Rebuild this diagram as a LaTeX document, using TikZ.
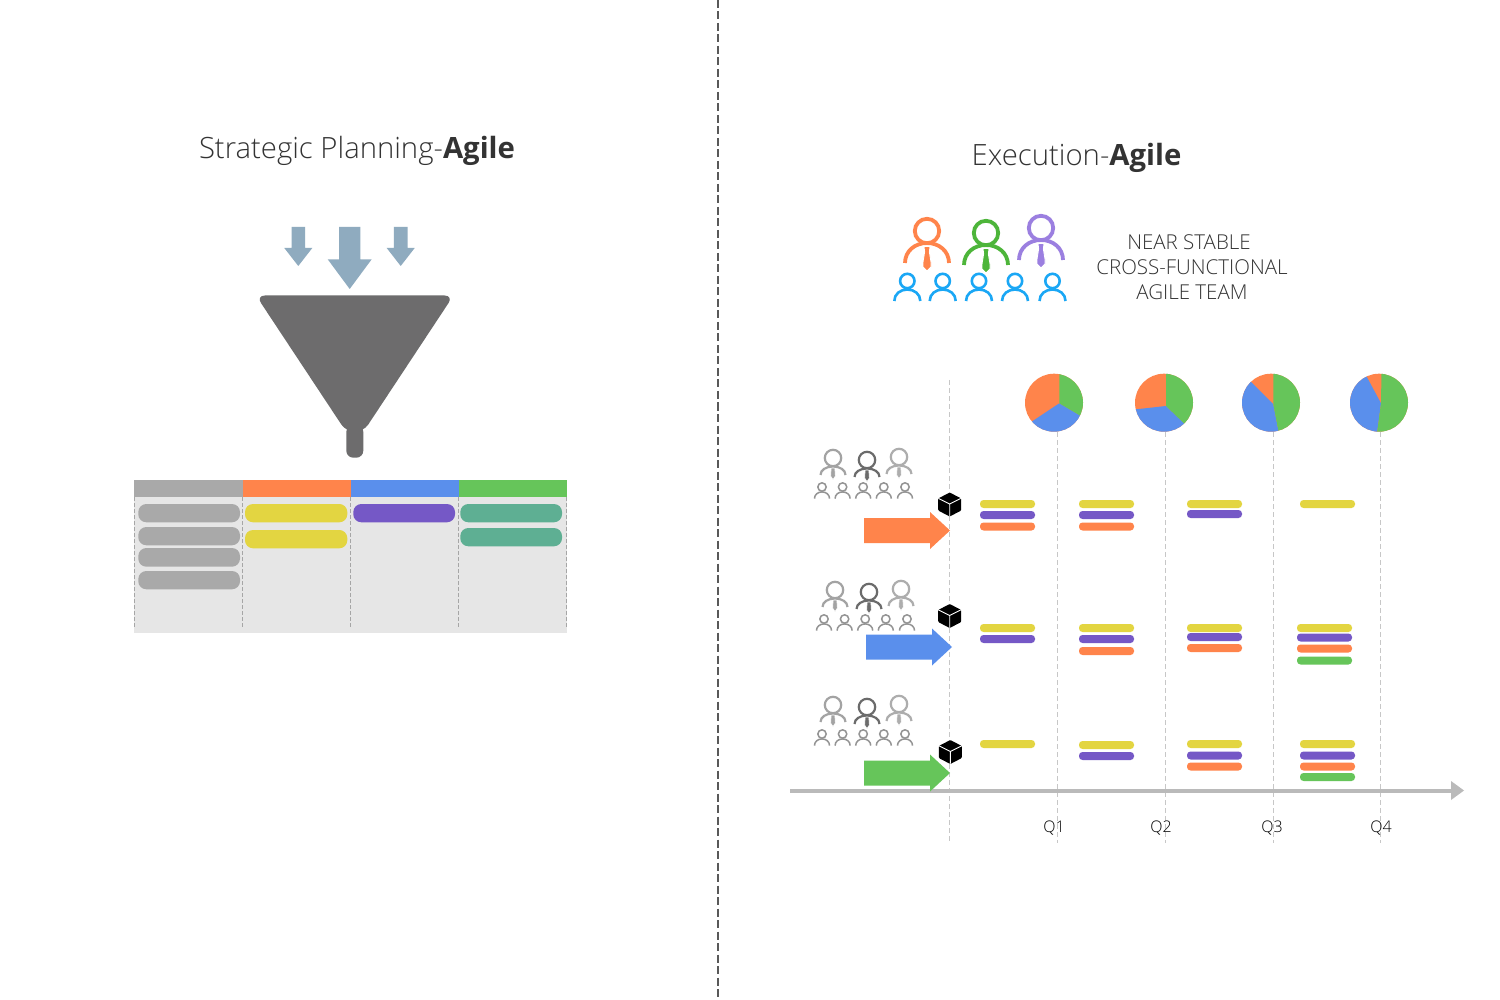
\documentclass[tikz,border=0pt]{standalone}
\usepackage{fontspec}
\setmainfont{Open Sans}
\newfontfamily\lightf{Open Sans Light}
\definecolor{cOrange}{HTML}{FF844B}
\definecolor{cBlue}{HTML}{5A8FEC}
\definecolor{cGreen}{HTML}{66C55A}
\definecolor{cYellow}{HTML}{E3D541}
\definecolor{cPurple}{HTML}{7558C6}
\definecolor{cTeal}{HTML}{5EAF93}
\definecolor{cGray}{HTML}{A9A9A9}
\definecolor{cLight}{HTML}{E6E6E6}
\definecolor{cFunnel}{HTML}{6D6C6D}
\definecolor{cSteel}{HTML}{8FABBF}
\definecolor{cText}{HTML}{333333}
\definecolor{cLeadGreen}{HTML}{4DB53A}
\definecolor{cLeadPurple}{HTML}{9B7FE0}
\definecolor{cMember}{HTML}{1AA7F5}
\tikzset{
  titletext/.style={font=\fontsize{29.3}{34}\selectfont\lightf, text=cText, inner sep=0pt},
  teamtext/.style={font=\fontsize{20.5}{25}\selectfont\lightf, text=cText, inner sep=0pt},
  qtext/.style={font=\fontsize{16}{18}\selectfont\lightf, text=black, inner sep=0pt},
  guide/.style={draw=black!22, line width=1pt, dash pattern=on 5pt off 3pt},
  boardguide/.style={draw=black!35, line width=0.8pt, dash pattern=on 4pt off 2pt},
}
% x y colour
\newcommand{\leaderfig}[3]{%
  \begin{scope}[shift={(#1,#2)},line width=3.8pt]
    \draw[#3] (-22,32) .. controls (-22,20) and (-12,12) .. (0,12) .. controls (12,12) and (22,20) .. (22,32);
    \draw[#3,fill=white] (0,0) circle[radius=12.2];
    \fill[#3,draw=white,line width=0.9pt] (-3,15.5) -- (3,15.5) -- (2.4,21) -- (4,31) -- (4,36) -- (0,40) -- (-4,36) -- (-4,31) -- (-2.4,21) -- cycle;
  \end{scope}}
% x y colour: the small gray leader has a shorter body
\newcommand{\grayleader}[3]{%
  \begin{scope}[shift={(#1,#2)},line width=2.2pt]
    \draw[#3] (-12.5,17) .. controls (-12.5,12) and (-7,8.5) .. (0,8.5) .. controls (7,8.5) and (12.5,12) .. (12.5,17);
    \draw[#3,fill=white] (0,0) circle[radius=8.2];
    \fill[#3,draw=white,line width=0.5pt] (-1.8,10) -- (1.8,10) -- (2.3,18) -- (0,21.5) -- (-2.3,18) -- cycle;
  \end{scope}}
% x y scale colour
\newcommand{\memberfig}[4]{%
  \begin{scope}[shift={(#1,#2)}]
  \begin{scope}[x=#3pt,y=-#3pt,line width=#3*2.6pt]
    \draw[#4] (-13,20) .. controls (-13,13) and (-7,8.5) .. (0,8.5) .. controls (7,8.5) and (13,13) .. (13,20);
    \draw[#4,fill=white] (0,0) circle[radius=7.2];
  \end{scope}
  \end{scope}}
\newcommand{\cubefig}[2]{%
  \begin{scope}[shift={(#1,#2)}]
    \fill[black,rounded corners=1pt] (0,-12) -- (11.5,-6) -- (11.5,6) -- (0,12) -- (-11.5,6) -- (-11.5,-6) -- cycle;
    \draw[white,line width=0.9pt] (-11,-6) -- (0,-0.5) -- (11,-6) (0,-0.5) -- (0,11.5);
  \end{scope}}
% x y colour
\newcommand{\rowarrow}[3]{%
  \fill[#3] (#1,#2-12.5) -- (#1+66,#2-12.5) -- (#1+66,#2-18.5) -- (#1+86,#2) -- (#1+66,#2+18.5) -- (#1+66,#2+12.5) -- (#1,#2+12.5) -- cycle;}
% x y colour
\newcommand{\planbar}[3]{%
  \fill[#3,rounded corners=3.5pt] (#1,#2-4) rectangle (#1+55,#2+4);}
% x0 y0 x1 y1 colour
\newcommand{\pill}[5]{%
  \fill[#5,rounded corners=8pt] (#1,#2) rectangle (#3,#4);}
% x tipY shaftHalf headHalf top shoulder
\newcommand{\feedarrow}[6]{%
  \fill[cSteel] (#1-#3,#5) -- (#1+#3,#5) -- (#1+#3,#6) -- (#1+#4,#6) -- (#1,#2) -- (#1-#4,#6) -- (#1-#3,#6) -- cycle;}
\begin{document}
\begin{tikzpicture}[x=1pt,y=-1pt]
\useasboundingbox (0,0) rectangle (1500,1000);
\fill[white] (0,0) rectangle (1500,1000);

% divider
\coordinate (divT) at (718,0);
\coordinate (divB) at (718,1000);
\draw[draw=black!65,line width=2.8pt,dash pattern=on 8pt off 3.5pt] (divT) -- (divB);

% titles
\node[titletext,anchor=base] (titleL) at (357,158.5) {Strategic Planning-{\fontspec{Open Sans}\bfseries Agile}};
\node[titletext,anchor=base] (titleR) at (1076.5,165.5) {Execution-{\fontspec{Open Sans}\bfseries Agile}};

% funnel arrows
\feedarrow{298.3}{266}{6.8}{14}{227}{248}
\feedarrow{349.7}{289}{10.7}{22}{227}{259.3}
\feedarrow{400.7}{266}{6.8}{14}{227}{248}

% funnel
\fill[cFunnel,rounded corners=9pt] (256,295.5) -- (453.5,295.5) -- (363.3,432) -- (346.3,432) -- cycle;
\fill[cFunnel,rounded corners=7pt] (346.3,425) rectangle (363.3,457.7);

% board
\fill[cLight] (134,497) rectangle (567,632.5);
\fill[cGray] (134,480) rectangle (242.6,497);
\fill[cOrange] (242.6,480) rectangle (351,497);
\fill[cBlue] (351,480) rectangle (459,497);
\fill[cGreen] (459,480) rectangle (567.3,497);
\foreach \gx in {134.4,242.2,350.6,458.6,566.6}{\draw[boardguide] (\gx,497) -- (\gx,628);}
\pill{138.3}{504}{240}{522.3}{cGray}
\pill{138.3}{527}{240}{545.3}{cGray}
\pill{138.3}{548}{240}{566.7}{cGray}
\pill{138.3}{571}{240}{589.3}{cGray}
\pill{245}{504}{347.3}{522.3}{cYellow}
\pill{245}{530}{347.3}{548.3}{cYellow}
\pill{353.3}{504}{455}{522.3}{cPurple}
\pill{460.3}{504}{562}{522.3}{cTeal}
\pill{460.3}{528}{562}{546.3}{cTeal}

% colored team
\leaderfig{927}{231}{cOrange}
\leaderfig{986}{233}{cLeadGreen}
\leaderfig{1041}{228}{cLeadPurple}
\foreach \mx in {907.3,942.7,979,1015,1052.5}{\memberfig{\mx}{281}{1}{cMember}}
\node[teamtext,align=center] (teamA) at (1189,242) {NEAR STABLE};
\node[teamtext,align=center] (teamB) at (1192,267) {CROSS-FUNCTIONAL};
\node[teamtext,align=center] (teamC) at (1192,292) {AGILE TEAM};

% guides
\coordinate (g0T) at (949.8,380);
\coordinate (g0B) at (949.8,843);
\draw[guide] (g0T) -- (g0B);
\foreach \gx in {1057,1165,1273,1380}{\draw[guide] (\gx,432) -- (\gx,843);}

% axis
\coordinate (axL) at (790,791);
\coordinate (axR) at (1453,791);
\draw[draw=black!27,line width=3.2pt] (axL) -- (axR);
\fill[black!27] (1451,781) -- (1464,790.5) -- (1451,800) -- cycle;

% pies
\begin{scope}
  \clip (1054,402.7) circle[radius=29];
  \fill[cOrange] (1054,402.7) circle[radius=30];
  \fill[cBlue] (1059.3,403.3) -- (1099.3,426.7) -- (1100,450) -- (1000,450) -- (1006,438.7) -- cycle;
  \fill[cGreen] (1059.3,403.3) -- (1059.3,360) -- (1100,360) -- (1100,427.2) -- cycle;
\end{scope}
\begin{scope}
  \clip (1164,402.7) circle[radius=29];
  \fill[cOrange] (1164,402.7) circle[radius=30];
  \fill[cBlue] (1166,406) -- (1218,456) -- (1106,456) -- (1106,412.6) -- cycle;
  \fill[cGreen] (1166,406) -- (1166,360) -- (1220,360) -- (1218,456) -- cycle;
\end{scope}
\begin{scope}
  \clip (1271,402.7) circle[radius=29];
  \fill[cOrange] (1271,402.7) circle[radius=30];
  \fill[cBlue] (1273.3,404.3) -- (1283.3,455.7) -- (1220,456) -- (1220,361) -- (1230,361) -- cycle;
  \fill[cGreen] (1273.3,404.3) -- (1273.3,360) -- (1320,360) -- (1320,456) -- (1283.3,455.7) -- cycle;
\end{scope}
\begin{scope}
  \clip (1379,402.7) circle[radius=29];
  \fill[cOrange] (1379,402.7) circle[radius=30];
  \fill[cBlue] (1381,403.3) -- (1373.6,458.7) -- (1330,458.7) -- (1330,350) -- (1352.4,350) -- cycle;
  \fill[cGreen] (1381,403.3) -- (1381.7,360) -- (1430,360) -- (1430,460) -- (1373.6,458.7) -- cycle;
\end{scope}

% gray teams
\def\gfig#1#2{%
  \grayleader{#1+11}{#2}{black!36}
  \grayleader{#1+45}{#2+2}{black!58}
  \grayleader{#1+77}{#2-1}{black!32}
  \foreach \k in {0,20.6,41.2,61.8,83}{\memberfig{#1+\k}{#2+29}{0.58}{black!42}}}
\gfig{822}{458}
\gfig{824}{590}
\gfig{822}{705}

% cubes
\cubefig{949.7}{504.5}
\cubefig{949.7}{616}
\cubefig{950.3}{752}

% row arrows
\rowarrow{864}{530.5}{cOrange}
\rowarrow{866}{647}{cBlue}
\rowarrow{864}{773}{cGreen}

% plan bars row 1
\planbar{980}{504}{cYellow}\planbar{980}{515}{cPurple}\planbar{980}{526.5}{cOrange}
\planbar{1079}{504}{cYellow}\planbar{1079}{515}{cPurple}\planbar{1079}{526.5}{cOrange}
\planbar{1187}{504}{cYellow}\planbar{1187}{514}{cPurple}
\planbar{1300}{504}{cYellow}
% row 2
\planbar{980}{628}{cYellow}\planbar{980}{639}{cPurple}
\planbar{1079}{628}{cYellow}\planbar{1079}{639}{cPurple}\planbar{1079}{651}{cOrange}
\planbar{1187}{628}{cYellow}\planbar{1187}{637}{cPurple}\planbar{1187}{648}{cOrange}
\planbar{1297}{628}{cYellow}\planbar{1297}{637.5}{cPurple}\planbar{1297}{648.5}{cOrange}\planbar{1297}{660.5}{cGreen}
% row 3
\planbar{980}{744}{cYellow}
\planbar{1079}{745}{cYellow}\planbar{1079}{756}{cPurple}
\planbar{1187}{744}{cYellow}\planbar{1187}{755.5}{cPurple}\planbar{1187}{766.5}{cOrange}
\planbar{1300}{744}{cYellow}\planbar{1300}{755.5}{cPurple}\planbar{1300}{766.5}{cOrange}\planbar{1300}{777}{cGreen}

% quarter labels
\node[qtext] (q1) at (1054,828.5) {Q1};
\node[qtext] (q2) at (1161,828.5) {Q2};
\node[qtext] (q3) at (1272,828.5) {Q3};
\node[qtext] (q4) at (1381,828.5) {Q4};
\end{tikzpicture}
\end{document}
